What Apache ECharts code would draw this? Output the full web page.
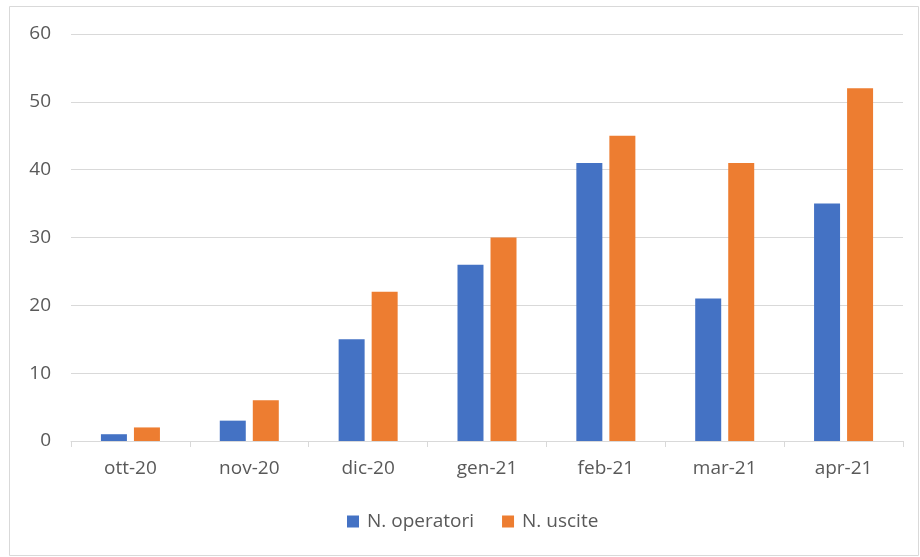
<!DOCTYPE html>
<html>
<head>
<meta charset="utf-8">
<script src="https://cdn.jsdelivr.net/npm/echarts@6/dist/echarts.min.js"></script>
<style>
  html, body { margin: 0; padding: 0; background: #ffffff; }
  #chart { width: 920px; height: 557px; }
</style>
</head>
<body>
<div id="chart"></div>
<script>
// Monthly counts, October 2020 to April 2021
const months = ['ott-20', 'nov-20', 'dic-20', 'gen-21', 'feb-21', 'mar-21', 'apr-21'];
const operatori = [1, 3, 15, 26, 41, 21, 35];
const uscite = [2, 6, 22, 30, 45, 41, 52];
const yTicks = { min: 0, max: 60, step: 10 };

const chart = echarts.init(document.getElementById('chart'), null, { renderer: 'canvas' });
const textFont = '"Open Sans", "Noto Sans", sans-serif';
const grey = '#595959';

chart.setOption({
  animation: false,
  backgroundColor: '#ffffff',
  graphic: [{
    type: 'rect',
    shape: { x: 9.5, y: 6.5, width: 909, height: 549 },
    style: { fill: 'none', stroke: '#d9d9d9', lineWidth: 1 },
    silent: true
  }],
  grid: { left: 71, right: 17, top: 34, bottom: 116, containLabel: false },
  legend: {
    bottom: 21,
    left: 342,
    itemWidth: 12,
    itemHeight: 12,
    itemGap: 28,
    icon: 'rect',
    textStyle: { color: grey, fontSize: 19, fontFamily: textFont, padding: [0, 0, 0, 3] },
    data: ['N. operatori', 'N. uscite']
  },
  xAxis: {
    type: 'category',
    data: months,
    axisLine: { lineStyle: { color: '#d9d9d9', width: 1 } },
    axisTick: { show: true, alignWithLabel: false, length: 6, lineStyle: { color: '#d9d9d9' } },
    axisLabel: { color: grey, fontSize: 19, fontFamily: textFont, margin: 18 }
  },
  yAxis: {
    type: 'value',
    min: yTicks.min,
    max: yTicks.max,
    interval: yTicks.step,
    axisLine: { show: false },
    axisTick: { show: false },
    splitLine: { lineStyle: { color: '#d9d9d9', width: 1 } },
    axisLabel: { color: grey, fontSize: 19, fontFamily: textFont, margin: 20 }
  },
  series: [
    {
      name: 'N. operatori',
      type: 'bar',
      data: operatori,
      itemStyle: { color: '#4472C4' },
      barWidth: 26,
      barGap: '27%'
    },
    {
      name: 'N. uscite',
      type: 'bar',
      data: uscite,
      itemStyle: { color: '#ED7D31' },
      barWidth: 26,
      barGap: '27%'
    }
  ]
});
</script>
</body>
</html>
